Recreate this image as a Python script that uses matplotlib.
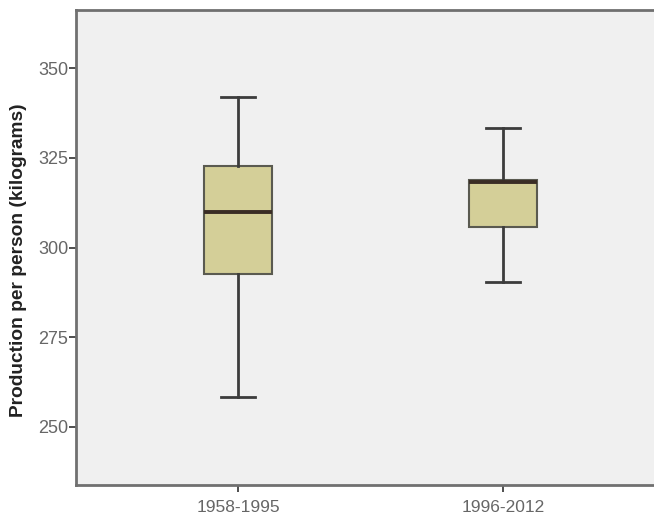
import matplotlib.pyplot as plt

plt.rcParams['font.family'] = ['Liberation Sans', 'DejaVu Sans']

# Five-number summaries per period (kg per person)
periods = ['1958-1995', '1996-2012']
whisker_low = [258.4, 290.5]
q1 = [292.5, 305.6]
median = [310.0, 318.3]
q3 = [322.6, 318.9]
whisker_high = [342.0, 333.2]

stats = []
for i, name in enumerate(periods):
    stats.append({
        'label': name,
        'whislo': whisker_low[i],
        'q1': q1[i],
        'med': median[i],
        'q3': q3[i],
        'whishi': whisker_high[i],
        'fliers': [],
    })

fig = plt.figure(figsize=(6.54, 5.16), dpi=100)
# axes run past the right edge of the canvas, so the right frame is cut off
ax = fig.add_axes([76 / 654, 31 / 516, 589 / 654, 475 / 516])
ax.set_facecolor('#f0f0f0')

ax.bxp(
    stats, positions=[1, 2], widths=0.257, patch_artist=True,
    boxprops=dict(facecolor='#d4cf98', edgecolor='#5a5a50', linewidth=1.5),
    medianprops=dict(color='#3a2d25', linewidth=2.8),
    whiskerprops=dict(color='#3c3c3c', linewidth=2),
    capprops=dict(color='#3c3c3c', linewidth=2),
    capwidths=0.125,
)

ax.set_xlim(0.389, 2.611)
ax.set_ylim(233.8, 366.2)
ax.set_yticks([250, 275, 300, 325, 350])
ax.set_xticks([1, 2])
ax.set_xticklabels(periods)

for side in ['left', 'bottom', 'top']:
    ax.spines[side].set_color('#707070')
    ax.spines[side].set_linewidth(2)
ax.spines['right'].set_visible(False)

ax.tick_params(axis='both', colors='#404040', labelcolor='#666666',
               length=5, width=1.3)
ax.tick_params(axis='x', labelsize=12.5, pad=5.5)
ax.tick_params(axis='y', labelsize=13, pad=0.5)

ax.set_ylabel('Production per person (kilograms)', fontsize=13.8,
              fontweight='bold', color='#222222')
ax.yaxis.set_label_coords(-0.083, 0.473)

fig.savefig('out.png', dpi=100)
